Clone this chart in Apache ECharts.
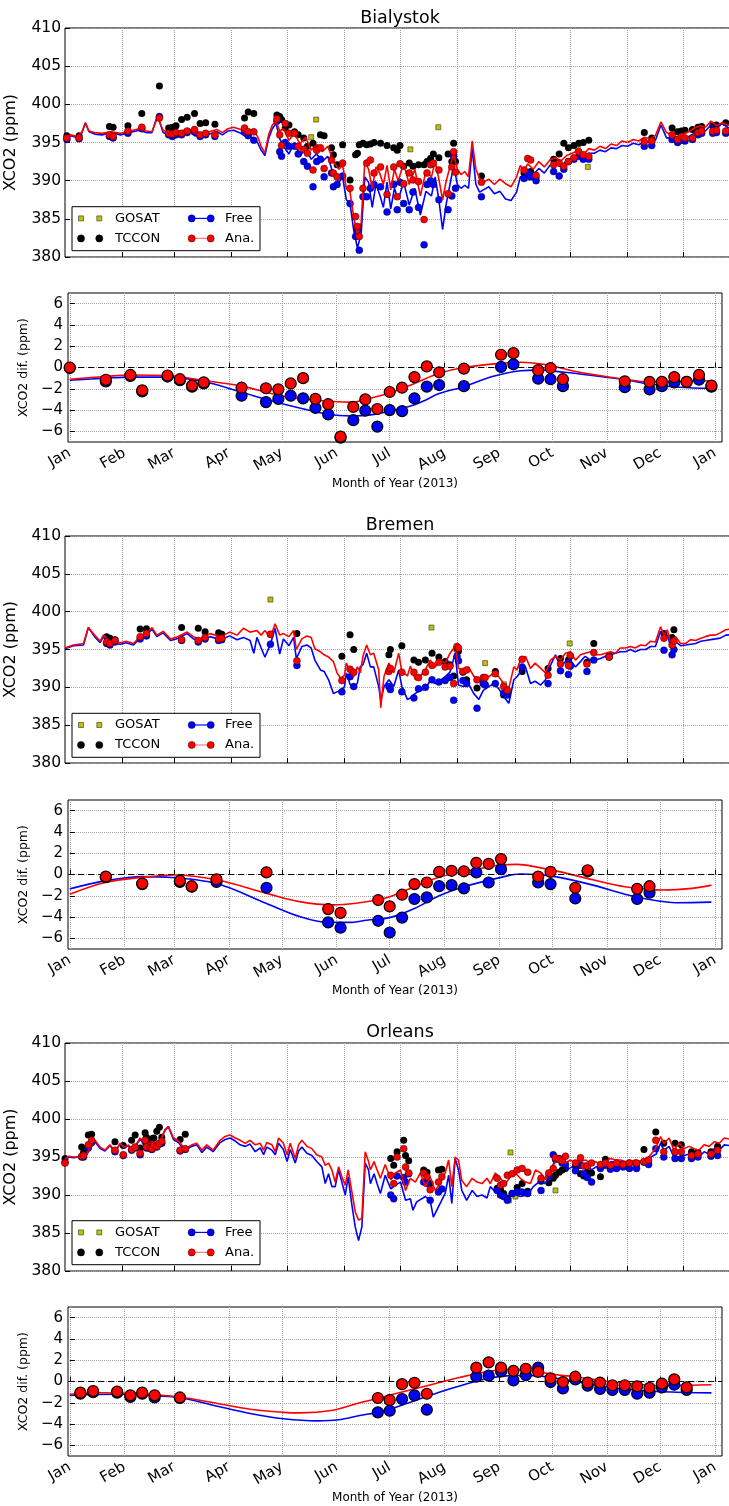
<!DOCTYPE html>
<html>
<head>
<meta charset="utf-8">
<script src="https://cdn.jsdelivr.net/npm/echarts@6/dist/echarts.min.js"></script>
<style>
  html, body { margin: 0; padding: 0; background: #fff; }
  #main { width: 729px; height: 1506px; }
</style>
</head>
<body>
<div id="main"></div>
<script>
// month starts (day of year, 0 = 1 Jan 2013)
const monthDays = [0, 31, 59, 90, 120, 151, 181, 212, 243, 273, 304, 334, 365]
const monthNames = ['Jan', 'Feb', 'Mar', 'Apr', 'May', 'Jun', 'Jul', 'Aug', 'Sep', 'Oct', 'Nov', 'Dec', 'Jan']
const xco2Ticks = [380, 385, 390, 395, 400, 405, 410]
const difTicks = [-6, -4, -2, 0, 2, 4, 6]

// ---------------- Bialystok ----------------
const bialFree = [[0,395.4],[3,395.9],[6,395.7],[9,396.2],[11,397.6],[13,396.4],[16,396.1],[20,396.0],[25,396.3],[30,396.0],[35,396.3],[40,396.6],[44,396.3],[47,396.3],[50,398.6],[53,396.3],[56,396.0],[60,395.9],[63,396.2],[67,396.5],[70,395.9],[73,395.8],[78,396.1],[82,396.4],[85,396.0],[88,396.5],[91,396.6],[95,396.2],[98,395.7],[102,395.6],[104,395.0],[106,394.0],[108,393.3],[110,395.5],[112,396.8],[114,397.5],[116,395.5],[118,394.5],[121,393.5],[124,395.0],[127,393.2],[130,394.3],[133,392.8],[136,393.5],[139,392.5],[142,393.2],[145,390.8],[148,389.8],[150,390.5],[152,387.5],[154,387.0],[156,383.5],[158,381.2],[160,383.0],[162,390.5],[164,389.8],[166,386.5],[168,389.5],[170,388.2],[172,386.5],[174,389.8],[176,386.3],[178,389.0],[180,387.5],[183,389.8],[186,386.8],[189,389.0],[192,385.5],[195,388.6],[198,388.0],[200,390.5],[202,387.5],[204,383.6],[206,387.0],[208,389.5],[210,392.0],[212,389.5],[214,389.0],[216,389.4],[218,389.0],[220,394.2],[222,389.5],[224,388.5],[226,388.8],[229,389.2],[232,388.3],[235,388.6],[238,387.6],[241,387.4],[244,388.5],[246,390.5],[248,390.5],[250,391.5],[253,390.8],[256,391.6],[259,391.0],[262,392.0],[265,392.2],[268,391.8],[271,392.6],[274,392.8],[277,393.2],[280,392.8],[283,393.6],[286,393.6],[289,394.0],[292,393.8],[295,394.3],[298,394.2],[301,394.6],[304,394.5],[307,394.9],[310,394.7],[313,395.1],[316,395.0],[319,395.3],[322,397.3],[325,395.6],[328,395.6],[331,395.2],[334,395.5],[337,395.8],[340,396.2],[343,396.6],[346,396.5],[349,397.3],[352,396.8],[355,397.5],[358,397.0],[362,396.6]]
const bialAna = [[0,395.5],[3,396.0],[6,395.8],[9,396.3],[11,397.5],[13,396.5],[16,396.3],[20,396.2],[25,396.4],[30,396.2],[35,396.5],[40,396.8],[44,396.5],[47,396.4],[50,398.3],[53,396.6],[56,396.3],[60,396.2],[63,396.5],[67,396.8],[70,396.2],[73,396.0],[78,396.4],[82,396.7],[85,396.3],[88,396.8],[91,397.0],[95,396.7],[98,396.2],[102,396.5],[104,395.8],[106,394.5],[108,393.6],[110,396.0],[112,397.3],[114,397.8],[116,396.5],[118,396.8],[121,395.3],[124,396.2],[127,394.8],[130,395.7],[133,394.0],[136,394.7],[139,393.8],[142,394.5],[145,392.5],[148,391.5],[150,392.0],[152,389.0],[154,388.5],[156,385.2],[158,383.0],[160,384.5],[162,392.5],[164,391.5],[166,389.0],[168,391.8],[170,391.0],[172,389.5],[174,392.0],[176,388.8],[178,391.5],[180,390.0],[183,392.2],[186,389.5],[189,391.5],[192,388.0],[195,391.2],[198,390.5],[200,392.5],[202,390.2],[204,387.5],[206,390.0],[208,391.8],[210,393.5],[212,391.5],[214,390.8],[216,391.2],[218,390.5],[220,395.2],[222,391.5],[224,390.3],[226,389.8],[229,390.2],[232,389.5],[235,390.2],[238,389.6],[241,389.2],[244,390.5],[246,392.0],[248,391.3],[250,392.2],[253,391.5],[256,392.5],[259,391.8],[262,392.7],[265,393.0],[268,392.6],[271,393.3],[274,393.6],[277,393.9],[280,393.4],[283,394.2],[286,394.0],[289,394.5],[292,394.2],[295,394.8],[298,394.6],[301,395.2],[304,395.0],[307,395.4],[310,395.2],[313,395.7],[316,395.5],[319,395.9],[322,397.7],[325,396.3],[328,396.0],[331,395.7],[334,396.1],[337,396.4],[340,396.9],[343,397.2],[346,397.0],[349,397.8],[352,397.2],[355,397.6],[358,397.3],[362,397.0]]
// [day, TCCON, Free, Ana.]
const bialObs = [[1,395.9,395.4,395.6],[7.6,395.9,395.5,395.6],[24,397.1,395.8,396.0],[26,397.0,395.6,395.8],[34,397.2,396.2,396.5],[41.5,398.8,396.8,397.0],[51,402.4,398.4,398.2],[56,396.9,396.0,396.2],[58,397.0,395.8,396.1],[60,397.2,396.0,396.3],[63,398.0,396.0,396.2],[66,398.3,396.3,396.5],[70,398.8,396.4,396.7],[73,397.5,395.8,396.0],[76,397.6,396.0,396.2],[81,397.4,395.8,396.0],[97,398.2,396.5,396.9],[99,399.0,395.9,396.4],[102,398.8,395.3,396.4],[114.5,398.6,397.8,398.1],[116,398.4,393.8,396.0],[117,398.0,393.2,394.6],[119,396.9,395.0,397.5],[121,397.3,394.5,396.2],[124,396.4,394.5,396.2],[126,396.0,393.5,394.5],[129,395.6,392.5,394.1],[131,394.5,391.9,393.6],[134,394.9,389.2,391.4],[136,394.3,392.5,394.0],[138,396.0,392.8,394.3],[140,395.9,390.5,391.6],[144,394.3,391.0,392.7],[145,393.4,389.2,391.0],[147,392.1,389.5,390.5],[150,394.7,390.6,392.3],[154,390.1,387.0,389.0],[157,393.4,382.7,385.3],[158,393.6,383.5,384.0],[159,394.7,380.9,382.7],[161,394.9,387.9,389.0],[163,394.7,387.9,392.3],[165,394.8,389.0,392.7],[167,395.0,389.5,391.0],[170.5,394.9,389.2,391.8],[174,394.6,385.9,388.2],[177.6,394.3,389.5,391.8],[179.5,394.0,386.2,387.9],[181,394.6,389.8,392.2],[183,391.9,387.0,389.6],[186,392.3,386.2,391.0],[188,391.9,388.5,390.1],[191,392.1,386.5,389.9],[194,392.1,381.6,384.9],[195.6,392.5,389.5,391.0],[197.5,392.9,390.0,392.1],[199,393.5,389.5,392.3],[202,393.0,387.5,391.4],[207,393.5,386.2,388.3],[209,392.5,388.0,391.8],[210,394.9,393.2,393.8],[211,392.5,389.0,391.1],[225,390.6,387.9,389.8],[248,391.0,390.3,391.4],[250,390.9,391.0,392.9],[251.6,391.2,390.5,392.7],[254.5,390.4,390.0,390.7],[264,392.8,391.2,392.1],[267,393.5,390.6,392.3],[269.5,394.9,391.5,391.9],[272,394.3,392.5,392.5],[275,394.6,392.8,393.0],[277.6,394.9,393.2,393.8],[280,395.0,392.8,393.4],[283,395.3,392.8,393.2],[313,396.3,394.5,395.1],[317,395.6,394.6,395.2],[328,396.9,395.4,396.0],[331,396.4,395.0,395.4],[333,396.5,395.3,395.8],[335,396.6,395.2,395.6],[339,396.7,395.4,395.6],[342,397.0,396.0,396.3],[344,397.1,396.2,396.5],[350,397.2,396.2,396.5],[352,397.3,396.3,396.6],[357,397.6,396.2,396.5]]
const bialGosat = [[133,395.7],[135.7,398.0],[186.6,394.1],[201.7,397.0],[250,390.4],[277,394.3],[282.5,391.8]]
// [day, Free dif, Ana. dif]
const bialDif = [[0,-0.05,0.0],[20.4,-1.3,-1.15],[34.3,-0.8,-0.7],[41,-2.25,-2.15],[55.3,-0.85,-0.75],[62.3,-1.2,-1.1],[69.2,-1.8,-1.7],[75.8,-1.5,-1.4],[97.2,-2.65,-1.9],[111,-3.25,-1.95],[118,-2.95,-2.05],[125,-2.65,-1.5],[132,-2.9,-1.0],[139,-3.8,-2.95],[146.2,-4.4,-3.45],[153.2,-6.6,-6.5],[160.4,-4.95,-3.7],[167.2,-4.05,-3.0],[174,-5.55,-3.9],[181,-4.0,-2.3],[188,-4.1,-1.9],[195,-2.9,-0.9],[202,-1.8,0.1],[209,-1.65,-0.45],[223,-1.75,-0.1],[244,0.05,1.2],[251,0.3,1.35],[265,-1.05,-0.25],[272,-1.1,-0.05],[279,-1.75,-1.1],[314,-1.85,-1.3],[328,-2.05,-1.35],[335,-1.75,-1.35],[342,-1.4,-0.9],[349,-1.35,-1.35],[356,-1.15,-0.7],[363,-1.8,-1.7]]
const bialFreeFit = [[0,-1.2],[20,-1.0],[34,-0.9],[55,-0.9],[75,-1.3],[97,-2.3],[111,-3.0],[130,-3.8],[146,-4.4],[160,-4.55],[170,-4.45],[181,-4.1],[195,-3.5],[202,-3.0],[209,-2.45],[223,-1.8],[239,-0.85],[255,-0.3],[265,-0.25],[280,-0.45],[298,-0.8],[314,-1.15],[328,-1.55],[345,-1.85],[363,-1.95]]
const bialAnaFit = [[0,-1.1],[20,-0.85],[34,-0.7],[55,-0.75],[75,-1.2],[97,-1.75],[121,-2.7],[135,-3.0],[149,-3.2],[160,-3.25],[167,-3.0],[181,-2.4],[195,-1.5],[209,-0.55],[223,0.0],[244,0.4],[255,0.5],[270,0.25],[287,-0.4],[314,-1.1],[328,-1.35],[345,-1.3],[363,-1.25]]

// ---------------- Bremen ----------------
const bremFree = [[0,395.1],[4.5,395.5],[10,395.6],[12.6,397.9],[16,396.7],[19,395.9],[20.7,396.7],[24,395.9],[30,395.7],[33,395.9],[37,395.6],[40.6,396.5],[44,396.9],[47,397.7],[49.6,396.7],[53,397.2],[57,396.2],[60,396.4],[66,397.1],[69.4,396.4],[73,396.2],[78.4,396.7],[84,396.3],[89,396.8],[93,396.3],[96.4,396.6],[100,396.2],[102,394.5],[103.7,396.6],[106,395.2],[108,394.0],[111,395.7],[113.5,397.8],[116,394.4],[118,396.4],[121,395.5],[123.5,396.6],[125,393.8],[128,395.4],[130.7,395.6],[133,395.2],[135,393.6],[138,392.3],[140,392.1],[142.4,391.0],[145,389.2],[147,389.4],[149,389.6],[151,390.1],[152,391.9],[154,390.4],[156,389.8],[158,390.6],[159.5,392.7],[161,393.0],[163,394.5],[165,392.7],[166.8,392.7],[169.5,390.1],[170.6,388.3],[172.4,390.1],[175,391.0],[177.6,390.1],[180.3,392.3],[182,390.1],[185,388.4],[186.6,388.6],[189.3,389.2],[192,389.6],[194.7,389.8],[197.3,390.9],[200,390.5],[202.7,390.9],[205.4,391.4],[208,392.0],[210.8,394.5],[212.6,390.3],[215.3,390.1],[218,390.5],[220.8,389.2],[223.6,388.4],[226,389.6],[229,390.1],[231.7,390.5],[234.4,389.8],[237,388.8],[239.8,387.9],[242.5,391.0],[244.2,391.4],[246,392.0],[248.8,392.7],[251.5,390.5],[254,390.8],[257,390.3],[259.6,391.0],[262.3,392.9],[265,394.3],[267.7,392.7],[270.4,393.4],[273,393.6],[275.8,392.7],[278.5,393.4],[281,394.1],[284,393.6],[286.6,393.6],[289.3,393.8],[292,394.1],[294.7,394.3],[297.4,394.5],[300,394.7],[302.8,394.7],[305.5,395.0],[308,394.7],[311,395.0],[313.7,395.0],[316.4,395.4],[319,395.4],[321.8,397.4],[323.6,396.3],[325.4,396.9],[327,395.6],[329.9,396.0],[332.6,395.5],[335.4,395.6],[338,395.7],[340.7,395.8],[343.5,396.1],[346,396.2],[348.8,396.3],[351.5,396.4],[354,396.5],[357,396.9],[362,397.0]]
const bremAna = [[0,395.2],[4.5,395.6],[10,395.8],[12.6,397.9],[16,396.9],[19,396.1],[20.7,396.9],[24,396.1],[30,395.9],[33,396.1],[37,395.8],[40.6,396.7],[44,397.1],[47,397.9],[49.6,396.9],[53,397.4],[57,396.4],[60,396.6],[66,397.3],[69.4,396.7],[73,396.4],[78.4,397.1],[84,396.7],[89,397.3],[93,396.9],[96.4,397.8],[100,397.3],[103.7,397.5],[106,396.9],[108,397.5],[111,396.6],[113.5,398.4],[116,396.9],[118,397.1],[121,396.7],[123.5,397.5],[125,395.0],[128,396.4],[130.7,396.8],[133,396.6],[135,395.1],[138,394.7],[140,394.3],[142.4,394.0],[145,393.4],[147,391.9],[149,391.2],[151,391.6],[152,393.2],[154,392.1],[156,391.4],[158,392.7],[159.5,391.9],[161,394.1],[163,395.6],[165,394.3],[166.8,394.5],[169.5,392.3],[170.6,387.3],[172.4,391.5],[175,393.2],[177.6,391.9],[180.3,394.5],[182,392.1],[185,391.5],[186.6,392.8],[189.3,391.0],[192,391.5],[194.7,392.3],[197.3,393.6],[200,392.7],[202.7,393.6],[205.4,393.2],[208,394.5],[210.8,395.4],[212.6,392.5],[215.3,392.3],[218,392.7],[220.8,391.5],[223.6,391.0],[226,391.6],[229,391.4],[231.7,391.9],[234.4,391.4],[237,390.5],[239.8,389.9],[242.5,392.7],[244.2,392.3],[246,393.6],[248.8,394.1],[251.5,392.5],[254,393.2],[257,392.5],[259.6,391.9],[262.3,393.6],[265,394.1],[267.7,393.6],[270.4,394.5],[273,394.7],[275.8,393.6],[278.5,394.3],[281,394.5],[284,394.7],[286.6,394.3],[289.3,394.3],[292,394.5],[294.7,394.7],[297.4,394.5],[300,395.2],[302.8,395.2],[305.5,395.4],[308,395.2],[311,395.6],[313.7,395.5],[316.4,396.1],[319,396.0],[321.8,398.0],[323.6,396.9],[325.4,397.6],[327,396.1],[329.9,396.7],[332.6,395.8],[335.4,395.8],[338,396.3],[340.7,396.2],[343.5,396.5],[346,396.7],[348.8,396.9],[351.5,396.9],[354,397.2],[357,397.6],[362,397.8]]
const bremObs = [[22.5,396.7,395.8,396.0],[24.3,396.5,395.6,395.8],[27,396.3,396.0,396.2],[40.6,397.7,396.4,396.7],[44,397.75,396.8,397.1],[63,397.9,396.2,396.3],[72,397.8,396.0,396.2],[75.7,397.35,396.4,396.6],[83,397.2,396.2,396.4],[84.7,397.0,396.3,396.5],[111,397.0,395.7,397.0],[125.3,397.1,392.9,393.5],[149.6,394.1,389.4,390.9],[154,396.95,391.4,392.4],[156,395.0,390.1,392.0],[175,394.3,390.1,392.1],[175.8,395.0,389.7,392.5],[182,395.5,389.4,392.0],[188.5,393.6,388.6,392.0],[191,393.3,389.8,391.3],[194.7,393.6,390.0,392.0],[198.3,394.5,391.0,392.9],[202,394.0,390.7,393.3],[205.4,393.4,390.9,392.7],[208,393.0,391.3,392.8],[210,391.5,388.3,390.5],[211.8,395.2,394.1,395.4],[212.6,394.8,393.5,395.2],[215,392.0,390.9,392.1],[217,391.0,390.5,392.3],[222.6,389.9,387.25,391.0],[226,390.6,390.5,391.3],[227,390.4,390.3,391.3],[232.5,392.1,390.5,391.8],[237,389.0,389.2,390.1],[239,389.3,389.0,389.6],[247,392.1,392.7,393.7],[261,392.5,390.5,391.6],[267.7,393.8,392.2,393.1],[272,393.6,391.7,392.9],[273,394.1,392.8,394.2],[282,393.3,392.1,393.1],[285.7,395.8,393.6,394.6],[294,394.2,394.0,394.0],[323.6,397.1,394.9,396.5],[328,396.6,394.3,395.6],[329,397.6,395.0,396.1]]
const bremGosat = [[111,401.6],[198,397.9],[211.5,395.0],[227,393.2],[237.2,390.4],[272.7,395.8]]
const bremDif = [[20.4,-0.25,-0.2],[41,-0.9,-0.85],[62.3,-0.7,-0.6],[69,-1.15,-1.1],[83,-0.7,-0.45],[111.3,-1.25,0.2],[146.2,-4.5,-3.25],[153.2,-5.0,-3.6],[174.5,-4.35,-2.4],[181,-5.45,-3.0],[188,-4.05,-1.9],[195,-2.3,-0.9],[202,-2.15,-0.75],[209,-1.1,0.25],[216,-1.0,0.35],[223,-1.3,0.3],[230,0.2,1.1],[237,-0.75,1.0],[244,0.5,1.45],[265,-0.75,-0.2],[272,-0.9,0.25],[286,-2.25,-1.25],[293,0.3,0.4],[321,-2.3,-1.35],[328,-1.7,-1.1]]
const bremFreeFit = [[0,-1.35],[20,-0.6],[41,-0.2],[55,-0.25],[83,-0.85],[111,-2.7],[130,-3.95],[146,-4.5],[158,-4.5],[168,-4.3],[181,-4.05],[195,-3.2],[209,-2.0],[223,-1.15],[244,-0.27],[255,0.05],[265,0.0],[277,-0.27],[296,-1.0],[314,-1.85],[328,-2.35],[343,-2.65],[363,-2.6]]
const bremAnaFit = [[0,-1.85],[20,-0.75],[41,-0.27],[59,-0.05],[83,-0.5],[111,-1.75],[130,-2.55],[149,-2.85],[162,-2.7],[174,-2.4],[181,-2.1],[195,-1.15],[209,-0.25],[223,0.25],[244,0.9],[253,0.95],[265,0.67],[277,0.27],[296,-0.5],[314,-1.15],[328,-1.4],[335,-1.45],[352,-1.3],[363,-1.0]]

// ---------------- Orleans ----------------
const orlFree = [[0,394.7],[1.8,395.0],[4.5,394.9],[7.2,395.0],[10,394.7],[12,395.4],[14.4,396.4],[16.2,397.0],[19,396.1],[21.6,395.8],[24.3,396.5],[27,395.6],[29.7,396.7],[32,396.2],[34.3,396.5],[36,395.8],[38.8,396.7],[40.6,397.3],[44.2,396.5],[47,397.0],[48.7,396.1],[51.4,397.0],[54,398.5],[55.9,399.0],[58.6,397.3],[61.3,396.9],[63.6,396.2],[65.8,396.0],[68.5,396.4],[71.2,396.6],[74,395.6],[76.6,396.3],[80,395.7],[83.8,396.9],[86.5,397.3],[89.2,397.5],[92,397.1],[94.6,396.6],[97.4,396.4],[100,396.7],[102.8,395.7],[105.5,396.2],[107.3,395.3],[109,396.3],[111.8,395.9],[113.6,395.3],[115.4,396.8],[118,396.0],[120,394.4],[121.7,396.0],[124.4,394.2],[126.2,395.8],[128,396.3],[130.7,395.5],[133.4,395.2],[136,394.4],[138.8,393.7],[140.6,391.5],[142.4,392.8],[144.2,391.1],[146,391.1],[147.8,393.3],[149.6,391.7],[151.4,390.0],[153,392.4],[155,388.7],[156.8,385.8],[158.6,384.0],[160.4,385.8],[162.2,394.2],[164,393.3],[165,391.5],[167,392.8],[168.6,391.5],[170.4,390.2],[173,392.6],[176,390.8],[178.5,391.3],[181.3,391.7],[184,389.3],[186.6,389.5],[188,388.0],[190,389.1],[194.7,389.8],[197.3,389.3],[199,387.1],[202.7,388.9],[205.4,390.2],[207.3,392.6],[209,388.9],[210.8,394.8],[212.6,393.3],[214.4,390.6],[217,389.3],[220,390.6],[222.6,389.8],[225.3,390.0],[228,389.6],[229.8,391.1],[232.5,390.4],[235.2,390.2],[239,389.5],[242,390.2],[246,389.8],[250,390.0],[253,391.1],[256,391.7],[259,391.5],[262,392.2],[264,394.2],[266.5,394.8],[269,394.4],[271,393.3],[274,393.7],[276.5,393.3],[279,393.7],[281.5,394.2],[284.5,393.3],[287,393.7],[290,393.9],[292.5,393.9],[295,394.4],[298,394.2],[300.5,394.4],[303,394.2],[306,394.2],[308.5,394.4],[311,394.4],[314,394.4],[316.5,395.0],[319.5,395.4],[321.8,396.8],[323.6,395.9],[326.4,396.4],[329,395.0],[331.8,395.7],[334.5,395.2],[337.2,395.4],[340,395.0],[342.6,395.0],[345.3,395.7],[348,395.4],[350.8,396.1],[353.5,395.9],[356.2,396.6],[362,396.4]]
const orlAna = [[0,394.6],[1.8,395.1],[4.5,395.0],[7.2,395.0],[10,394.8],[12,395.5],[14.4,396.6],[16.2,397.2],[19,396.3],[21.6,395.9],[24.3,396.6],[27,395.7],[29.7,396.8],[32,396.3],[34.3,396.6],[36,395.9],[38.8,396.8],[40.6,397.5],[44.2,396.6],[47,397.1],[48.7,396.2],[51.4,397.1],[54,398.6],[55.9,399.0],[58.6,397.5],[61.3,397.1],[63.6,396.4],[65.8,396.2],[68.5,396.6],[71.2,396.8],[74,395.9],[76.6,396.6],[80,395.9],[83.8,397.2],[86.5,397.7],[89.2,397.9],[92,397.5],[94.6,397.2],[97.4,396.8],[100,397.2],[102.8,396.6],[105.5,396.8],[107.3,395.9],[109,396.9],[111.8,396.6],[113.6,395.7],[115.4,397.5],[118,396.8],[120,395.3],[121.7,396.8],[124.4,394.8],[126.2,396.6],[128,397.2],[130.7,396.4],[133.4,396.1],[136,395.3],[138.8,395.0],[140.6,393.9],[142.4,394.2],[144.2,393.3],[146,391.7],[147.8,393.7],[149.6,392.4],[151.4,391.3],[153,393.3],[155,390.4],[156.8,387.8],[158.6,386.7],[160.4,386.9],[162.2,395.7],[164,394.4],[165,393.3],[167,394.4],[168.6,393.3],[170.4,392.2],[173,394.0],[176,392.0],[178.5,392.9],[181.3,393.3],[184,390.6],[186.6,392.2],[189.3,391.7],[192,392.9],[194.7,391.1],[197.3,392.4],[200,390.6],[202.7,391.5],[205.4,392.9],[207.3,394.6],[209,391.1],[210.8,395.0],[212.6,394.6],[214.4,391.9],[217,391.1],[220,392.2],[222.6,391.7],[225.3,391.5],[228,392.2],[229.8,391.5],[232.5,392.9],[235.2,392.2],[238,391.5],[240.7,392.4],[243.3,392.9],[246,392.2],[248.8,391.7],[251.5,391.5],[254.2,393.3],[257,392.9],[259.6,392.0],[262.3,393.3],[265,394.4],[267.7,395.0],[270.4,394.2],[273,394.6],[275.8,394.2],[278.5,394.4],[281.2,394.6],[284,394.2],[286.6,394.4],[289.3,394.0],[292,394.4],[294.7,394.8],[297.4,394.6],[300,394.6],[302.8,394.4],[305.5,394.4],[308.2,394.6],[311,394.4],[313.7,394.6],[316.4,395.3],[319,396.1],[321.8,397.7],[323.6,396.8],[326.4,397.5],[329,395.9],[331.8,396.8],[334.5,396.1],[337.2,396.4],[340,396.1],[342.6,395.9],[345.3,396.6],[348,396.4],[350.8,397.0],[353.5,396.8],[356.2,397.5],[362,397.2]]
const orlObs = [[0,394.8,394.3,394.2],[9,396.3,395.0,395.1],[10,395.6,395.0,395.2],[12.6,397.9,396.2,396.6],[14.4,398.0,396.9,397.2],[27,397.0,395.7,395.9],[31.5,396.5,395.2,395.3],[36,397.2,395.9,396.0],[37.9,397.9,396.2,396.3],[40.6,396.2,395.3,395.5],[43.3,398.2,397.0,397.2],[44,397.6,396.2,396.3],[46,397.2,396.1,396.2],[47,397.4,396.0,396.1],[48,397.5,396.3,396.6],[49.6,398.4,396.3,396.4],[51,398.9,396.7,396.8],[52.3,397.6,396.8,397.1],[62.2,397.3,395.8,395.9],[65,398.0,396.0,396.1],[176,394.8,390.0,392.6],[177.6,393.9,389.5,391.5],[179.4,395.7,392.5,395.0],[183,397.2,392.3,396.1],[184,395.2,391.7,393.7],[185.7,394.5,392.8,392.9],[193.8,393.3,391.7,392.9],[195.6,393.0,391.5,392.4],[197.3,391.5,389.3,390.7],[201.8,393.3,390.4,391.7],[203.6,393.4,390.8,392.4],[233.5,390.9,390.6,392.2],[235.3,390.7,390.0,391.3],[237,390.2,389.8,391.5],[239,389.6,389.3,392.6],[241.6,390.2,390.2,392.8],[244.3,391.0,390.4,393.3],[247,391.5,390.4,393.5],[250,390.5,390.2,393.0],[257.2,391.8,390.6,392.2],[261.4,391.6,392.4,392.9],[263.8,392.2,395.3,393.5],[265,392.6,394.7,394.9],[267,393.0,394.8,394.7],[268.6,393.3,394.2,394.5],[270.4,393.5,394.0,395.1],[275.8,393.8,393.2,394.2],[278.5,392.8,393.9,394.9],[280.3,392.5,392.8,393.8],[282.2,393.0,392.3,393.8],[284.5,392.9,391.7,394.2],[289.3,392.4,393.5,394.0],[292,394.7,393.9,394.2],[294.7,393.5,393.4,393.9],[298,393.8,393.5,394.2],[301.5,394.0,393.7,394.0],[305,394.2,393.5,394.2],[308.8,394.0,393.5,394.2],[312.8,396.0,394.3,394.4],[315.3,394.3,394.0,394.6],[319.2,398.3,396.1,397.2],[323.5,396.8,395.0,395.7],[329.6,396.8,394.8,395.7],[333,396.6,394.8,395.7],[338.5,395.7,394.8,395.2],[342,395.6,395.0,395.4],[349,395.7,395.1,395.4],[352.6,396.4,395.2,395.9]]
const orlGosat = [[239.8,389.3],[240.7,395.6],[243.4,389.8],[265,390.6]]
const orlDif = [[6,-1.15,-1.05],[13.2,-1.0,-0.9],[26.8,-1.05,-0.95],[34.3,-1.45,-1.3],[41,-1.15,-1.05],[48,-1.5,-1.3],[62.3,-1.55,-1.5],[174.3,-2.9,-1.55],[181,-2.75,-1.75],[188,-1.65,-0.25],[195,-1.3,-0.12],[202,-2.65,-1.15],[230,0.45,1.3],[237,0.55,1.8],[244,0.95,1.3],[251,0.1,1.0],[258,0.6,1.2],[265,1.3,0.9],[272,-0.05,0.3],[279,-0.65,-0.05],[286,0.2,0.45],[293,-0.4,-0.1],[300,-0.7,-0.1],[307,-0.8,-0.35],[314,-0.8,-0.35],[321,-1.15,-0.45],[328,-1.05,-0.6],[335,-0.55,-0.2],[342,-0.3,0.2],[349,-0.8,-0.55]]
const orlFreeFit = [[0,-1.3],[26,-1.2],[50,-1.35],[62,-1.5],[83,-2.3],[102,-3.0],[121,-3.5],[140,-3.7],[152,-3.6],[164,-3.2],[174,-2.9],[183,-2.5],[195,-1.8],[209,-1.0],[223,-0.3],[237,0.3],[250,0.55],[262,0.55],[277,0.25],[296,-0.3],[315,-0.72],[335,-0.97],[363,-1.07]]
const orlAnaFit = [[0,-1.2],[17,-1.05],[36,-1.1],[62,-1.45],[83,-2.05],[102,-2.6],[121,-2.9],[130,-2.95],[149,-2.7],[164,-2.0],[174,-1.6],[183,-1.2],[202,-0.4],[221,0.4],[237,0.95],[250,1.15],[265,0.9],[277,0.6],[286,0.45],[305,0.0],[324,-0.3],[335,-0.4],[352,-0.35],[363,-0.3]]

const stations = [
  { name: 'Bialystok', titleY: 18.5, legendTop: 206.7, free: bialFree, ana: bialAna, obs: bialObs, gosat: bialGosat, dif: bialDif, freeFit: bialFreeFit, anaFit: bialAnaFit },
  { name: 'Bremen', titleY: 525.5, legendTop: 713.3, free: bremFree, ana: bremAna, obs: bremObs, gosat: bremGosat, dif: bremDif, freeFit: bremFreeFit, anaFit: bremAnaFit },
  { name: 'Orleans', titleY: 1032, legendTop: 1220.7, free: orlFree, ana: orlAna, obs: orlObs, gosat: orlGosat, dif: orlDif, freeFit: orlFreeFit, anaFit: orlAnaFit }
]

// plot boxes: [top, height]
const topBoxes = [[28, 229], [536, 227], [1043, 228]]
const difBoxes = [[293, 149], [800, 149], [1307, 149]]

const FONT = 'DejaVu Sans'
const BLUE = '#0000ff'
const RED = '#ff0000'
const GOLD = '#bfbf00'
const gridLine = { show: true, lineStyle: { type: 'dotted', color: '#a0a0a0', width: 1 } }
const minus = v => String(v).replace('-', '\u2212')

const grids = []
const xAxes = []
const yAxes = []
const series = []
const graphics = []

stations.forEach((st, k) => {
  const gt = k * 2
  const gd = k * 2 + 1

  grids.push({ left: 65, top: topBoxes[k][0], width: 670, height: topBoxes[k][1], show: true, borderColor: '#000', borderWidth: 1, outerBoundsMode: 'none' })
  grids.push({ left: 68, top: difBoxes[k][0], width: 654, height: difBoxes[k][1], show: true, borderColor: '#000', borderWidth: 1, outerBoundsMode: 'none' })

  xAxes.push({
    gridIndex: gt, type: 'value', min: 0, max: 362,
    axisLine: { show: false },
    axisTick: { show: true, inside: true, length: 5, customValues: monthDays.slice(1, 12), lineStyle: { color: '#000' } },
    axisLabel: { show: false },
    splitLine: gridLine
  })
  xAxes.push({
    gridIndex: gd, type: 'value', min: -1, max: 369,
    axisLine: { show: false },
    axisTick: { show: true, inside: true, length: 5, customValues: monthDays, lineStyle: { color: '#000' } },
    axisLabel: {
      customValues: monthDays, rotate: 30, margin: 10, fontSize: 15, color: '#000', fontFamily: FONT,
      formatter: v => monthNames[monthDays.indexOf(v)]
    },
    splitLine: gridLine,
    name: 'Month of Year (2013)', nameLocation: 'middle', nameGap: 36,
    nameTextStyle: { fontSize: 12, color: '#000', fontFamily: FONT }
  })

  yAxes.push({
    gridIndex: gt, type: 'value', min: 380, max: 410, interval: 5,
    axisLine: { show: false },
    axisTick: { show: true, inside: true, length: 5, lineStyle: { color: '#000' } },
    axisLabel: { fontSize: 15.5, color: '#000', fontFamily: FONT, margin: 4 },
    splitLine: gridLine,
    name: 'XCO2 (ppm)', nameLocation: 'middle', nameGap: 46,
    nameTextStyle: { fontSize: 16, color: '#000', fontFamily: FONT }
  })
  yAxes.push({
    gridIndex: gd, type: 'value', min: -7, max: 7,
    axisLine: { show: false },
    axisTick: { show: true, inside: true, length: 5, customValues: difTicks, lineStyle: { color: '#000' } },
    axisLabel: { customValues: difTicks, fontSize: 15, color: '#000', fontFamily: FONT, margin: 5, formatter: minus },
    splitLine: gridLine,
    name: 'XCO2 dif. (ppm)', nameLocation: 'middle', nameGap: 35,
    nameTextStyle: { fontSize: 12.5, color: '#000', fontFamily: FONT }
  })

  const onTop = { xAxisIndex: gt, yAxisIndex: gt, silent: true, animation: false }
  series.push(Object.assign({ type: 'scatter', data: st.gosat, symbol: 'rect', symbolSize: 5, z: 2,
    itemStyle: { color: GOLD, borderColor: '#333', borderWidth: 0.6, opacity: 1 } }, onTop))
  series.push(Object.assign({ type: 'scatter', data: st.obs.map(r => [r[0], r[1]]), symbolSize: 7, z: 3,
    itemStyle: { color: '#000', opacity: 1 } }, onTop))
  series.push(Object.assign({ type: 'line', data: st.free, symbol: 'none', z: 4,
    lineStyle: { color: BLUE, width: 1.6 } }, onTop))
  series.push(Object.assign({ type: 'scatter', data: st.obs.map(r => [r[0], r[2]]), symbolSize: 7, z: 5,
    itemStyle: { color: BLUE, borderColor: '#000', borderWidth: 0.4, opacity: 1 } }, onTop))
  series.push(Object.assign({ type: 'line', data: st.ana, symbol: 'none', z: 6,
    lineStyle: { color: RED, width: 1.6 } }, onTop))
  series.push(Object.assign({ type: 'scatter', data: st.obs.map(r => [r[0], r[3]]), symbolSize: 7, z: 7,
    itemStyle: { color: RED, borderColor: '#000', borderWidth: 0.4, opacity: 1 } }, onTop))

  const onDif = { xAxisIndex: gd, yAxisIndex: gd, silent: true, animation: false }
  series.push(Object.assign({ type: 'line', data: st.freeFit, smooth: 0.35, symbol: 'none', z: 3,
    lineStyle: { color: BLUE, width: 1.6 },
    markLine: { silent: true, symbol: 'none', label: { show: false }, animation: false,
      lineStyle: { color: '#000', type: [6, 4], width: 1 }, data: [{ yAxis: 0 }] } }, onDif))
  series.push(Object.assign({ type: 'line', data: st.anaFit, smooth: 0.35, symbol: 'none', z: 4,
    lineStyle: { color: RED, width: 1.6 } }, onDif))
  series.push(Object.assign({ type: 'scatter', data: st.dif.map(r => [r[0], r[1]]), symbolSize: 11, z: 5,
    itemStyle: { color: BLUE, borderColor: '#000', borderWidth: 1.2, opacity: 1 } }, onDif))
  series.push(Object.assign({ type: 'scatter', data: st.dif.map(r => [r[0], r[2]]), symbolSize: 11, z: 6,
    itemStyle: { color: RED, borderColor: '#000', borderWidth: 1.2, opacity: 1 } }, onDif))

  // panel title
  graphics.push({ type: 'text', x: 400, y: st.titleY, z: 100,
    style: { text: st.name, fontSize: 17.5, fontFamily: FONT, fill: '#000', align: 'center', verticalAlign: 'middle' } })

  // legend box (matplotlib style, two markers per entry)
  const t = st.legendTop
  const r1 = t + 11.7
  const r2 = t + 31.7
  const txt = (x, y, s) => ({ type: 'text', x: x, y: y, z: 101,
    style: { text: s, fontSize: 13, fontFamily: FONT, fill: '#000', align: 'left', verticalAlign: 'middle' } })
  const dot = (x, y, c) => ({ type: 'circle', z: 102, shape: { cx: x, cy: y, r: 3.6 },
    style: { fill: c, stroke: '#000', lineWidth: 0.4 } })
  graphics.push({ type: 'rect', z: 100, shape: { x: 72, y: t, width: 188, height: 44 },
    style: { fill: '#fff', stroke: '#000', lineWidth: 1 } })
  ;[81, 99.3].forEach(x => {
    graphics.push({ type: 'rect', z: 102, shape: { x: x - 2.5, y: r1 - 2.5, width: 5, height: 5 },
      style: { fill: GOLD, stroke: '#333', lineWidth: 0.6 } })
    graphics.push(dot(x, r2, '#000'))
  })
  graphics.push(txt(115, r1, 'GOSAT'))
  graphics.push(txt(115, r2, 'TCCON'))
  graphics.push({ type: 'line', z: 101, shape: { x1: 191.7, y1: r1, x2: 210.7, y2: r1 }, style: { stroke: BLUE, lineWidth: 1.2 } })
  graphics.push({ type: 'line', z: 101, shape: { x1: 191.7, y1: r2, x2: 210.7, y2: r2 }, style: { stroke: '#ff7a7a', lineWidth: 1.2 } })
  ;[191.7, 210.7].forEach(x => {
    graphics.push(dot(x, r1, BLUE))
    graphics.push(dot(x, r2, RED))
  })
  graphics.push(txt(225, r1, 'Free'))
  graphics.push(txt(225, r2, 'Ana.'))
})

const chart = echarts.init(document.getElementById('main'), null, { renderer: 'canvas' })
chart.setOption({
  backgroundColor: '#fff',
  animation: false,
  textStyle: { fontFamily: FONT },
  grid: grids,
  xAxis: xAxes,
  yAxis: yAxes,
  series: series,
  graphic: { elements: graphics }
})
</script>
</body>
</html>
